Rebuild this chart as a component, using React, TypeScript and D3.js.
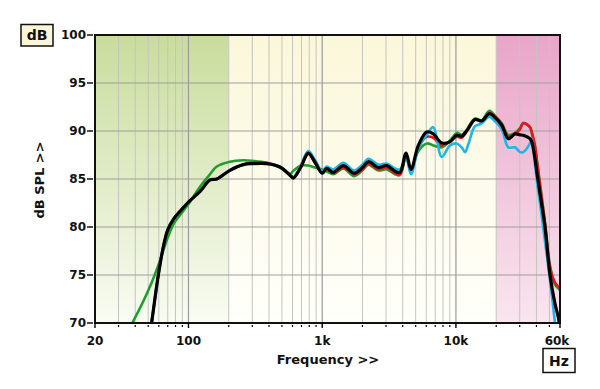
import React, { useEffect, useRef } from 'react';
import * as d3 from 'd3';

// frequency grid shared by all four traces (Hz)
const freqs = [
  38, 45, 53, 59.5, 65, 70, 78, 86, 100, 122,
  145, 163, 204, 257, 300, 385, 483, 574, 608, 690,
  787, 880, 1000, 1080, 1210, 1438, 1730, 2000, 2212, 2628,
  3036, 3502, 3818, 4234, 4614, 5232, 6046, 6772, 7826, 9030,
  10134, 11040, 11700, 12374, 13884, 15580, 17760, 19590, 21990, 24640,
  27640, 30140, 31890, 35780, 36860, 39000, 40580, 42520, 46340, 50520,
  55060, 58260, 60000,
];

const greenDb = [
  70, 72, 74.2, 76, 77.6, 78.9, 80.4, 81.2, 82.4, 84.2,
  85.5, 86.3, 86.8, 86.95, 86.9, 86.7, 86.2, 85.55, 85.85, 86.4,
  86.4, 86.2, 86.0, 85.8, 85.5, 86.1, 85.3, 85.9, 86.5, 85.9,
  86.0, 85.5, 85.4, 87.3, 86.0, 87.9, 88.7, 88.5, 88.3, 89.0,
  89.8, 89.6, 89.9, 90.4, 91.3, 91.1, 92.1, 91.6, 90.8, 89.6,
  89.8, 90.3, 90.85, 90.4, 89.8, 88.3, 86.6, 84.5, 80.5, 76,
  74.0, 73.6, 73.4,
];

const redDb = [
  55, 63, 70, 75, 78, 79.7, 80.9, 81.6, 82.6, 83.7,
  84.9, 85.0, 85.9, 86.5, 86.7, 86.7, 86.25, 85.4, 85.1, 86.2,
  87.6, 86.7, 85.6, 86.0, 85.6, 86.2, 85.5, 86.0, 86.6, 86.0,
  86.2, 85.6, 85.5, 87.4, 85.9, 88.3, 89.4, 89.3, 88.5, 88.9,
  89.4, 89.3, 89.7, 90.3, 91.2, 91.0, 91.9, 91.5, 90.7, 89.4,
  89.7, 90.2, 90.8, 90.4, 89.9, 88.5, 86.6, 84.4, 80.3, 75.8,
  74.2, 73.8, 73.6,
];

const cyanDb = [
  55, 63, 70, 75, 78, 79.7, 80.9, 81.6, 82.6, 83.7,
  84.9, 85.0, 85.9, 86.5, 86.6, 86.6, 86.25, 85.4, 85.2, 86.4,
  87.9, 87.0, 85.8, 86.3, 86.0, 86.7, 85.9, 86.5, 87.1, 86.5,
  86.6, 86.1, 86.0, 87.2, 85.5, 88.2, 89.6, 90.4, 87.3, 88.5,
  88.7, 88.3, 87.8, 88.6, 90.5, 90.8, 91.5, 91.0, 90.2, 88.3,
  88.3, 87.8, 87.8, 88.7, 89.2, 86.5, 84.5, 82.5, 78.5, 74.5,
  70, 67, 66,
];

const blackDb = [
  55, 63, 70, 75, 78, 79.7, 80.9, 81.6, 82.6, 83.7,
  84.9, 85.0, 85.9, 86.5, 86.6, 86.6, 86.25, 85.4, 85.1, 86.2,
  87.7, 86.8, 85.6, 86.1, 85.7, 86.4, 85.6, 86.2, 86.8, 86.2,
  86.4, 85.8, 85.7, 87.7, 86.0, 88.5, 89.9, 89.7, 88.75, 88.9,
  89.55, 89.45, 89.8, 90.25, 91.2, 91.05, 91.8, 91.4, 90.6, 89.2,
  89.7, 89.6, 89.55, 89.2, 88.9, 87.1, 85.4, 83.5, 80, 75,
  72, 70.6, 69.5,
];

const yTicks = [70, 75, 80, 85, 90, 95, 100];
const xLabels = [
  { f: 20, t: '20' },
  { f: 100, t: '100' },
  { f: 1000, t: '1k' },
  { f: 10000, t: '10k' },
  { f: 60000, t: '60k' },
];
const majorFreqs = [100, 1000, 10000];
const minorFreqs = [
  30, 40, 50, 60, 70, 80, 90,
  200, 300, 400, 500, 600, 700, 800, 900,
  2000, 3000, 4000, 5000, 6000, 7000, 8000, 9000,
  20000, 30000, 40000, 50000,
];
// shaded bands: low (green), mid (cream), high (pink)
const bands = [
  { from: 20, to: 200, top: '#c9dc9c', bottom: '#f9fcf3', id: 'gLow' },
  { from: 200, to: 20000, top: '#fbf7da', bottom: '#fffffb', id: 'gMid' },
  { from: 20000, to: 60000, top: '#e9a5c8', bottom: '#f9e6ef', id: 'gHigh' },
];

const series = [
  { values: greenDb, color: '#1f9e2c', width: 2.6 },
  { values: redDb, color: '#e8141c', width: 2.6 },
  { values: cyanDb, color: '#1db6e8', width: 2.6 },
  { values: blackDb, color: '#000000', width: 3.2 },
];

const FONT = '"DejaVu Sans", Verdana, sans-serif';

const App: React.FC = () => {
  const svgRef = useRef<SVGSVGElement>(null);

  useEffect(() => {
    if (!svgRef.current) return;
    const width = 600;
    const height = 389;
    const plot = { left: 95, right: 560, top: 35, bottom: 323 };

    const svg = d3.select(svgRef.current)
      .attr('width', width)
      .attr('height', height)
      .html('');

    svg.append('rect').attr('width', width).attr('height', height).attr('fill', '#fff');

    const x = d3.scaleLog().domain([20, 60000]).range([plot.left, plot.right]);
    const y = d3.scaleLinear().domain([70, 100]).range([plot.bottom, plot.top]);

    const defs = svg.append('defs');
    bands.forEach(b => {
      const g = defs.append('linearGradient')
        .attr('id', b.id)
        .attr('x1', 0).attr('y1', 0).attr('x2', 0).attr('y2', 1);
      g.append('stop').attr('offset', '0%').attr('stop-color', b.top);
      g.append('stop').attr('offset', '100%').attr('stop-color', b.bottom);
    });
    defs.append('clipPath').attr('id', 'plotClip')
      .append('rect')
      .attr('x', plot.left).attr('y', plot.top)
      .attr('width', plot.right - plot.left)
      .attr('height', plot.bottom - plot.top);

    // background bands
    bands.forEach(b => {
      svg.append('rect')
        .attr('x', x(b.from))
        .attr('y', plot.top)
        .attr('width', x(b.to) - x(b.from))
        .attr('height', plot.bottom - plot.top)
        .attr('fill', `url(#${b.id})`);
    });

    // grid
    minorFreqs.forEach(f => {
      svg.append('line')
        .attr('x1', x(f)).attr('x2', x(f))
        .attr('y1', plot.top).attr('y2', plot.bottom)
        .attr('stroke', '#c4c4c0').attr('stroke-width', 1);
    });
    majorFreqs.forEach(f => {
      svg.append('line')
        .attr('x1', x(f)).attr('x2', x(f))
        .attr('y1', plot.top).attr('y2', plot.bottom)
        .attr('stroke', '#9a9a9a').attr('stroke-width', 1.2);
    });
    yTicks.slice(1, -1).forEach(v => {
      svg.append('line')
        .attr('x1', plot.left).attr('x2', plot.right)
        .attr('y1', y(v)).attr('y2', y(v))
        .attr('stroke', '#9e9e9e').attr('stroke-width', 1.2);
    });

    // curves
    const line = d3.line<number>()
      .x((_, i) => x(freqs[i]))
      .y(d => y(d))
      .curve(d3.curveCatmullRom.alpha(0.5));
    const curves = svg.append('g').attr('clip-path', 'url(#plotClip)');
    series.forEach(s => {
      curves.append('path')
        .attr('d', line(s.values))
        .attr('fill', 'none')
        .attr('stroke', s.color)
        .attr('stroke-width', s.width)
        .attr('stroke-linejoin', 'round')
        .attr('stroke-linecap', 'round');
    });

    // frame
    svg.append('rect')
      .attr('x', plot.left).attr('y', plot.top)
      .attr('width', plot.right - plot.left)
      .attr('height', plot.bottom - plot.top)
      .attr('fill', 'none')
      .attr('stroke', '#111')
      .attr('stroke-width', 2);

    // bottom ticks
    minorFreqs.forEach(f => {
      svg.append('line')
        .attr('x1', x(f)).attr('x2', x(f))
        .attr('y1', plot.bottom + 2).attr('y2', plot.bottom + 4)
        .attr('stroke', '#000').attr('stroke-width', 1.2);
    });
    xLabels.forEach(l => {
      svg.append('line')
        .attr('x1', x(l.f)).attr('x2', x(l.f))
        .attr('y1', plot.bottom).attr('y2', plot.bottom + 5)
        .attr('stroke', '#000').attr('stroke-width', 1.4);
      svg.append('text')
        .attr('x', l.f === 60000 ? x(l.f) - 3 : x(l.f))
        .attr('y', 345)
        .attr('text-anchor', 'middle')
        .style('font-family', FONT)
        .style('font-weight', 'bold')
        .style('font-size', '12px')
        .attr('fill', '#111')
        .text(l.t);
    });

    // left ticks
    yTicks.forEach(v => {
      svg.append('line')
        .attr('x1', plot.left - 8).attr('x2', plot.left - 2)
        .attr('y1', y(v)).attr('y2', y(v))
        .attr('stroke', '#000').attr('stroke-width', 1.4);
      svg.append('text')
        .attr('x', plot.left - 9)
        .attr('y', y(v))
        .attr('dy', '0.36em')
        .attr('text-anchor', 'end')
        .style('font-family', FONT)
        .style('font-weight', 'bold')
        .style('font-size', '12px')
        .attr('fill', '#111')
        .text(v);
    });

    // axis titles
    svg.append('text')
      .attr('x', 328).attr('y', 364)
      .attr('text-anchor', 'middle')
      .style('font-family', FONT)
      .style('font-weight', 'bold')
      .style('font-size', '13px')
      .attr('fill', '#111')
      .text('Frequency >>');
    svg.append('text')
      .attr('transform', 'translate(44,180) rotate(-90)')
      .attr('text-anchor', 'middle')
      .style('font-family', FONT)
      .style('font-weight', 'bold')
      .style('font-size', '13px')
      .attr('fill', '#111')
      .text('dB SPL >>');

    // unit boxes
    const unitBox = (bx: number, by: number, bw: number, bh: number, fill: string, label: string) => {
      svg.append('rect')
        .attr('x', bx).attr('y', by)
        .attr('width', bw).attr('height', bh)
        .attr('fill', fill)
        .attr('stroke', '#111')
        .attr('stroke-width', 1.5);
      svg.append('text')
        .attr('x', bx + bw / 2).attr('y', by + bh / 2)
        .attr('dy', '0.36em')
        .attr('text-anchor', 'middle')
        .style('font-family', FONT)
        .style('font-weight', 'bold')
        .style('font-size', '14px')
        .attr('fill', '#111')
        .text(label);
    };
    unitBox(21, 24.5, 32, 21.5, '#fbf6d8', 'dB');
    unitBox(543, 348.5, 32, 24, '#ffffff', 'Hz');
  }, []);

  return (
    <div style={{ position: 'absolute', left: 0, top: 0 }}>
      <svg ref={svgRef} style={{ display: 'block' }} />
    </div>
  );
};

export default App;
